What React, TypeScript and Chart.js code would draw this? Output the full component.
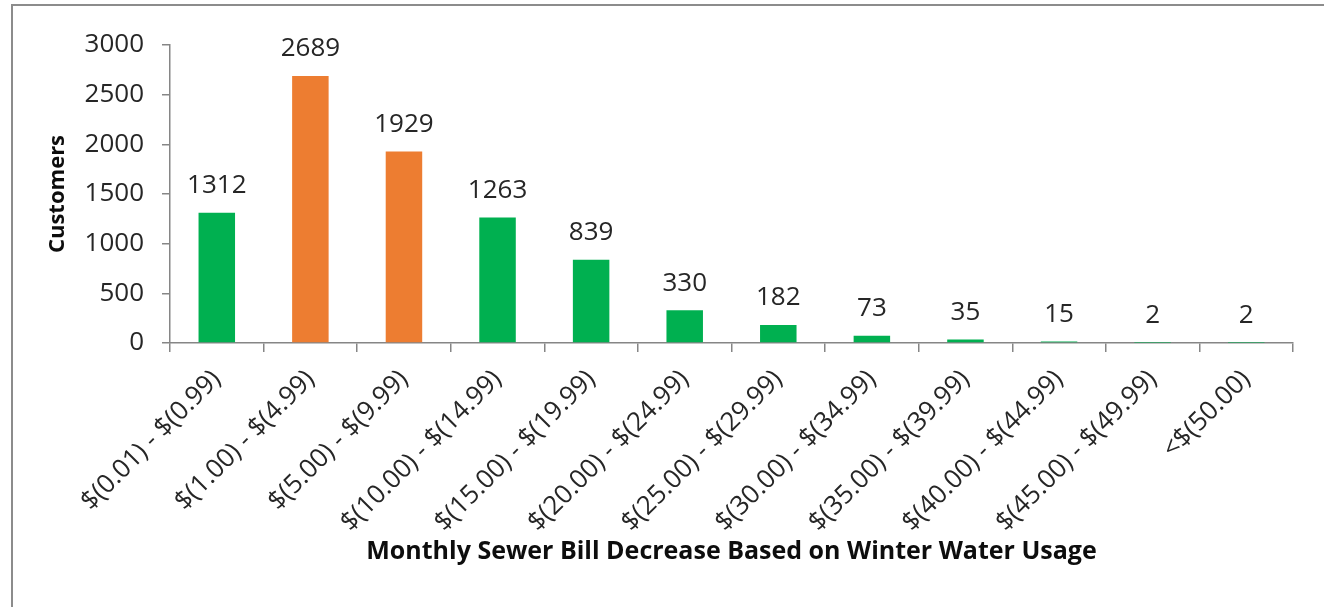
import React, { useEffect, useRef } from "react";
import { Chart, registerables } from "chart.js";

Chart.register(...registerables);

const categories = [
  "$(0.01) - $(0.99)",
  "$(1.00) - $(4.99)",
  "$(5.00) - $(9.99)",
  "$(10.00) - $(14.99)",
  "$(15.00) - $(19.99)",
  "$(20.00) - $(24.99)",
  "$(25.00) - $(29.99)",
  "$(30.00) - $(34.99)",
  "$(35.00) - $(39.99)",
  "$(40.00) - $(44.99)",
  "$(45.00) - $(49.99)",
  "<$(50.00)",
];
const customers = [1312, 2689, 1929, 1263, 839, 330, 182, 73, 35, 15, 2, 2];
const highlighted = [false, true, true, false, false, false, false, false, false, false, false, false];
const yTicks = [0, 500, 1000, 1500, 2000, 2500, 3000];

const GREEN = "#00B050";
const ORANGE = "#ED7D31";
const FONT = "'Open Sans', sans-serif";

const valueLabels = {
  id: "valueLabels",
  afterDatasetsDraw(chart: any) {
    const { ctx } = chart;
    const meta = chart.getDatasetMeta(0);
    ctx.save();
    ctx.font = `26px ${FONT}`;
    ctx.fillStyle = "#262626";
    ctx.textAlign = "center";
    ctx.textBaseline = "middle";
    meta.data.forEach((bar: any, i: number) => {
      ctx.fillText(String(customers[i]), bar.x, bar.y - 27);
    });
    ctx.restore();
  },
};

export default function App() {
  const ref = useRef<HTMLCanvasElement>(null);
  useEffect(() => {
    if (!ref.current) return;
    const chart = new Chart(ref.current, {
      type: "bar",
      data: {
        labels: categories,
        datasets: [
          {
            data: customers,
            backgroundColor: highlighted.map((h) => (h ? ORANGE : GREEN)),
            categoryPercentage: 1,
            barPercentage: 0.39,
          },
        ],
      },
      options: {
        responsive: false,
        animation: false,
        maintainAspectRatio: false,
        layout: { padding: { top: 45, right: 31, left: 0, bottom: 0 } },
        plugins: {
          legend: { display: false },
          tooltip: { enabled: false },
        },
        scales: {
          x: {
            offset: true,
            grid: {
              offset: true,
              drawOnChartArea: false,
              drawTicks: true,
              tickLength: 9,
              color: "#868686",
              lineWidth: 1.5,
            },
            border: { color: "#868686", width: 1.5 },
            ticks: {
              minRotation: 45,
              maxRotation: 45,
              autoSkip: false,
              padding: 12,
              color: "#262626",
              font: { family: FONT, size: 26 },
            },
            title: {
              display: true,
              text: "Monthly Sewer Bill Decrease Based on Winter Water Usage",
              color: "#0d0d0d",
              font: { family: FONT, size: 25, weight: "bold" },
              padding: { top: 4, bottom: 40 },
            },
            afterFit(scale: any) {
              scale.height = 264;
            },
          },
          y: {
            min: 0,
            max: 3000,
            afterBuildTicks(scale: any) {
              scale.ticks = yTicks.map((v) => ({ value: v }));
            },
            grid: {
              drawOnChartArea: false,
              drawTicks: true,
              tickLength: 8,
              color: "#868686",
              lineWidth: 1.5,
            },
            border: { color: "#868686", width: 1.5 },
            ticks: {
              padding: 18,
              color: "#262626",
              font: { family: FONT, size: 26 },
              callback: (v: any) => String(v),
            },
            title: {
              display: true,
              text: "Customers",
              color: "#0d0d0d",
              font: { family: FONT, size: 22, weight: "bold" },
              padding: { top: 45, bottom: 0 },
            },
            afterFit(scale: any) {
              scale.width = 170;
            },
          },
        },
      },
      plugins: [valueLabels],
    });
    return () => chart.destroy();
  }, []);

  return (
    <div style={{ position: "fixed", left: 0, top: 0, width: 1324, height: 607, background: "#fff", overflow: "hidden" }}>
      <div
        style={{
          position: "absolute",
          left: 11,
          top: 4,
          width: 1400,
          height: 700,
          border: "2px solid #8c8c8c",
          boxSizing: "border-box",
        }}
      />
      <canvas ref={ref} width={1324} height={607} style={{ position: "absolute", left: 0, top: 0, width: 1324, height: 607 }} />
    </div>
  );
}
